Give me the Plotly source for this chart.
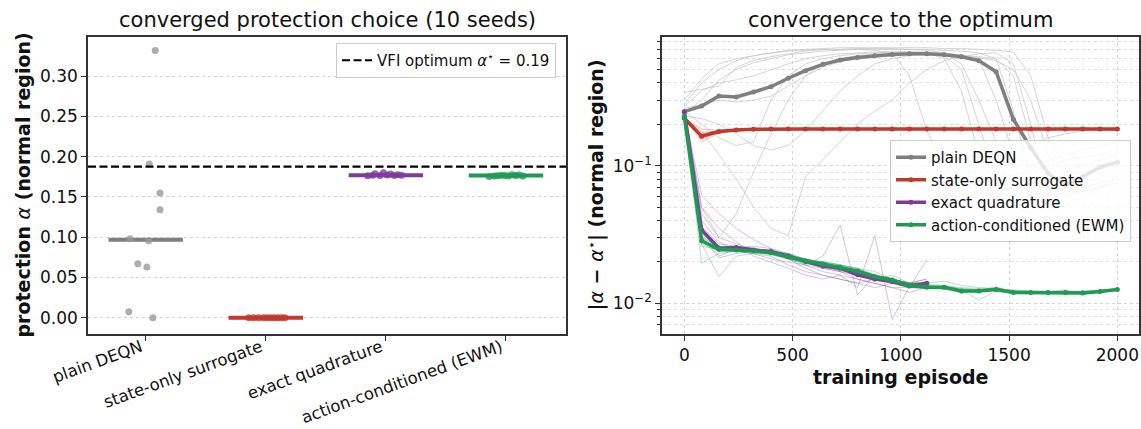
import numpy as np
import plotly.graph_objects as go

# ---------------- data ----------------
categories = ["plain DEQN", "state-only surrogate", "exact quadrature", "action-conditioned (EWM)"]
alpha_star = 0.1876

final_plain = [0.332, 0.191, 0.155, 0.134, 0.098, 0.0955, 0.067, 0.063, 0.0074, 0.0]
final_state = [0.0, 0.0, 0.0, 0.0, 0.0, 0.0, 0.0, 0.0, 0.0, 0.0]
final_exact = [0.1765, 0.1770, 0.1790, 0.1768, 0.1800, 0.1772, 0.1785, 0.1766, 0.1775, 0.1770]
final_ewm = [0.1755, 0.1760, 0.1765, 0.1770, 0.1768, 0.1762, 0.1775, 0.1766, 0.1772, 0.1760]

jitter_plain = [0.08, 0.03, 0.12, 0.12, -0.13, 0.025, -0.065, 0.01, -0.14, 0.06]
jitter_state = [-0.14, -0.10, -0.06, -0.02, 0.01, 0.04, 0.07, 0.10, 0.13, 0.16]
jitter_exact = [-0.15, -0.11, -0.09, -0.05, -0.02, 0.01, 0.04, 0.07, 0.10, 0.13]
jitter_ewm = [-0.14, -0.10, -0.07, -0.04, -0.01, 0.02, 0.05, 0.08, 0.11, 0.14]

episodes = [0, 80, 160, 240, 320, 400, 480, 560, 640, 720, 800, 880, 960, 1040,
            1120, 1200, 1280, 1360, 1440, 1520, 1600, 1680, 1760, 1840, 1920, 2000]
episodes_exact = [0, 80, 160, 240, 320, 400, 480, 560, 640, 720, 800, 880, 960, 1040, 1120]

plain_mean = [0.247, 0.271, 0.321, 0.316, 0.343, 0.375, 0.432, 0.490, 0.545, 0.586, 0.612, 0.630, 0.644,
              0.650, 0.650, 0.640, 0.620, 0.580, 0.482, 0.217, 0.135, 0.088, 0.072, 0.083, 0.098, 0.106]
state_mean = [0.221, 0.164, 0.177, 0.182, 0.184, 0.185, 0.185, 0.185, 0.185, 0.185, 0.185, 0.185, 0.185,
              0.185, 0.185, 0.185, 0.185, 0.185, 0.185, 0.185, 0.185, 0.185, 0.185, 0.185, 0.185, 0.185]
exact_mean = [0.247, 0.0341, 0.0251, 0.0254, 0.0244, 0.0238, 0.0221, 0.0201, 0.0187, 0.0180, 0.0161,
              0.0150, 0.0144, 0.0134, 0.0140]
ewm_mean = [0.229, 0.0285, 0.0247, 0.0244, 0.0241, 0.0233, 0.0218, 0.0203, 0.0193, 0.0183, 0.0172, 0.0156,
            0.0148, 0.0134, 0.0131, 0.0131, 0.0123, 0.0123, 0.0126, 0.0120, 0.0120, 0.0120, 0.0120, 0.0119,
            0.0122, 0.0126]

plain_seeds = [
    [0.30, 0.43, 0.55, 0.60, 0.63, 0.66, 0.69, 0.70, 0.71, 0.72, 0.72, 0.72, 0.72, 0.72, 0.72, 0.71, 0.71, 0.70, 0.69, 0.67, 0.45, 0.16, 0.10, 0.10, 0.10, 0.10],
    [0.34, 0.36, 0.38, 0.52, 0.58, 0.62, 0.65, 0.68, 0.70, 0.70, 0.71, 0.71, 0.71, 0.70, 0.70, 0.69, 0.68, 0.66, 0.60, 0.25, 0.08, 0.05, 0.04, 0.035, 0.032, 0.031],
    [0.25, 0.20, 0.16, 0.14, 0.15, 0.30, 0.45, 0.55, 0.60, 0.63, 0.65, 0.66, 0.67, 0.67, 0.67, 0.66, 0.64, 0.60, 0.30, 0.12, 0.10, 0.11, 0.12, 0.13, 0.14, 0.15],
    [0.25, 0.05, 0.030, 0.045, 0.09, 0.17, 0.30, 0.45, 0.55, 0.60, 0.63, 0.65, 0.66, 0.66, 0.65, 0.63, 0.50, 0.20, 0.08, 0.05, 0.045, 0.05, 0.06, 0.07, 0.075, 0.08],
    [0.22, 0.18, 0.12, 0.08, 0.05, 0.035, 0.031, 0.083, 0.11, 0.15, 0.20, 0.25, 0.30, 0.40, 0.50, 0.58, 0.62, 0.65, 0.66, 0.55, 0.20, 0.06, 0.05, 0.06, 0.07, 0.08],
    [0.28, 0.40, 0.50, 0.58, 0.63, 0.66, 0.68, 0.69, 0.70, 0.70, 0.70, 0.69, 0.66, 0.45, 0.18, 0.10, 0.08, 0.07, 0.065, 0.07, 0.075, 0.08, 0.085, 0.09, 0.095, 0.10],
    [0.24, 0.30, 0.42, 0.50, 0.56, 0.60, 0.64, 0.66, 0.68, 0.69, 0.70, 0.70, 0.70, 0.70, 0.69, 0.66, 0.55, 0.30, 0.15, 0.12, 0.14, 0.16, 0.17, 0.18, 0.18, 0.18],
    [0.26, 0.28, 0.30, 0.29, 0.30, 0.32, 0.38, 0.45, 0.52, 0.57, 0.60, 0.62, 0.63, 0.64, 0.64, 0.63, 0.62, 0.61, 0.58, 0.50, 0.30, 0.12, 0.09, 0.10, 0.11, 0.12],
    [0.23, 0.22, 0.20, 0.17, 0.14, 0.13, 0.14, 0.18, 0.25, 0.35, 0.45, 0.55, 0.60, 0.63, 0.64, 0.64, 0.63, 0.62, 0.60, 0.45, 0.15, 0.07, 0.06, 0.065, 0.07, 0.075],
    [0.27, 0.35, 0.40, 0.42, 0.45, 0.50, 0.55, 0.60, 0.63, 0.65, 0.66, 0.67, 0.67, 0.67, 0.66, 0.60, 0.35, 0.12, 0.09, 0.085, 0.09, 0.10, 0.11, 0.115, 0.12, 0.12],
]
state_seeds = [
    [0.22, 0.150, 0.172, 0.180, 0.183, 0.184, 0.185, 0.185, 0.185, 0.185, 0.185, 0.185, 0.185, 0.185, 0.185, 0.185, 0.185, 0.185, 0.185, 0.185, 0.185, 0.185, 0.185, 0.185, 0.185, 0.185],
    [0.23, 0.160, 0.175, 0.181, 0.184, 0.185, 0.185, 0.186, 0.185, 0.185, 0.185, 0.186, 0.185, 0.185, 0.185, 0.185, 0.186, 0.185, 0.185, 0.185, 0.185, 0.185, 0.186, 0.185, 0.185, 0.185],
    [0.21, 0.170, 0.180, 0.183, 0.184, 0.185, 0.185, 0.185, 0.185, 0.184, 0.185, 0.185, 0.185, 0.185, 0.184, 0.185, 0.185, 0.185, 0.185, 0.184, 0.185, 0.185, 0.185, 0.185, 0.185, 0.184],
    [0.22, 0.175, 0.178, 0.182, 0.183, 0.185, 0.185, 0.185, 0.186, 0.185, 0.185, 0.185, 0.185, 0.186, 0.185, 0.185, 0.185, 0.185, 0.186, 0.185, 0.185, 0.185, 0.185, 0.185, 0.186, 0.185],
    [0.23, 0.155, 0.176, 0.182, 0.184, 0.185, 0.184, 0.185, 0.185, 0.185, 0.185, 0.184, 0.185, 0.185, 0.185, 0.185, 0.185, 0.184, 0.185, 0.185, 0.185, 0.184, 0.185, 0.185, 0.185, 0.185],
    [0.22, 0.165, 0.177, 0.181, 0.183, 0.184, 0.185, 0.185, 0.185, 0.185, 0.186, 0.185, 0.185, 0.185, 0.185, 0.186, 0.185, 0.185, 0.185, 0.185, 0.186, 0.185, 0.185, 0.185, 0.185, 0.185],
    [0.21, 0.168, 0.179, 0.183, 0.185, 0.185, 0.185, 0.184, 0.185, 0.185, 0.185, 0.185, 0.184, 0.185, 0.185, 0.185, 0.184, 0.185, 0.185, 0.185, 0.185, 0.185, 0.184, 0.185, 0.185, 0.185],
    [0.22, 0.185, 0.181, 0.184, 0.185, 0.185, 0.185, 0.185, 0.185, 0.186, 0.185, 0.185, 0.185, 0.185, 0.186, 0.185, 0.185, 0.185, 0.185, 0.185, 0.185, 0.186, 0.185, 0.185, 0.185, 0.185],
    [0.23, 0.158, 0.174, 0.180, 0.183, 0.184, 0.185, 0.185, 0.185, 0.185, 0.185, 0.185, 0.185, 0.185, 0.185, 0.185, 0.185, 0.185, 0.185, 0.185, 0.185, 0.185, 0.185, 0.186, 0.185, 0.185],
    [0.22, 0.162, 0.176, 0.182, 0.184, 0.185, 0.185, 0.185, 0.184, 0.185, 0.185, 0.185, 0.185, 0.185, 0.185, 0.184, 0.185, 0.185, 0.185, 0.185, 0.185, 0.185, 0.185, 0.185, 0.185, 0.186],
]
exact_seeds = [
    [0.25, 0.045, 0.030, 0.027, 0.025, 0.023, 0.022, 0.019, 0.022, 0.037, 0.0115, 0.016, 0.014, 0.013, 0.013],
    [0.24, 0.035, 0.026, 0.025, 0.024, 0.023, 0.021, 0.019, 0.017, 0.016, 0.013, 0.031, 0.0076, 0.0132, 0.0206],
    [0.25, 0.061, 0.045, 0.035, 0.029, 0.025, 0.021, 0.018, 0.016, 0.015, 0.014, 0.013, 0.014, 0.013, 0.013],
    [0.25, 0.030, 0.0214, 0.023, 0.024, 0.023, 0.022, 0.021, 0.019, 0.017, 0.015, 0.014, 0.013, 0.012, 0.013],
    [0.25, 0.033, 0.024, 0.026, 0.025, 0.024, 0.023, 0.020, 0.019, 0.018, 0.017, 0.016, 0.015, 0.014, 0.014],
    [0.24, 0.040, 0.028, 0.024, 0.023, 0.022, 0.019, 0.017, 0.016, 0.015, 0.014, 0.015, 0.016, 0.014, 0.015],
    [0.25, 0.031, 0.022, 0.025, 0.026, 0.025, 0.023, 0.021, 0.019, 0.018, 0.016, 0.015, 0.014, 0.013, 0.014],
    [0.25, 0.050, 0.035, 0.028, 0.022, 0.020, 0.018, 0.016, 0.015, 0.016, 0.015, 0.014, 0.013, 0.013, 0.013],
    [0.24, 0.034, 0.025, 0.024, 0.023, 0.021, 0.020, 0.019, 0.018, 0.017, 0.016, 0.015, 0.014, 0.014, 0.014],
    [0.25, 0.036, 0.027, 0.026, 0.025, 0.024, 0.022, 0.020, 0.018, 0.017, 0.017, 0.016, 0.015, 0.014, 0.015],
]
ewm_seeds = [
    [0.23, 0.0196, 0.023, 0.024, 0.024, 0.023, 0.022, 0.021, 0.020, 0.019, 0.018, 0.016, 0.015, 0.014, 0.013, 0.013, 0.0125, 0.0125, 0.013, 0.0122, 0.0121, 0.012, 0.0121, 0.012, 0.0123, 0.0127],
    [0.23, 0.027, 0.0156, 0.022, 0.023, 0.023, 0.021, 0.020, 0.019, 0.018, 0.017, 0.016, 0.015, 0.014, 0.0135, 0.013, 0.0118, 0.0124, 0.0132, 0.012, 0.0118, 0.0122, 0.0125, 0.0116, 0.012, 0.0125],
    [0.23, 0.029, 0.025, 0.025, 0.024, 0.023, 0.022, 0.021, 0.020, 0.019, 0.018, 0.017, 0.015, 0.014, 0.014, 0.0145, 0.0135, 0.013, 0.0128, 0.0125, 0.0123, 0.0122, 0.0121, 0.012, 0.0121, 0.0124],
    [0.23, 0.030, 0.026, 0.0245, 0.0245, 0.024, 0.023, 0.021, 0.0195, 0.018, 0.017, 0.0155, 0.0148, 0.0135, 0.0131, 0.0128, 0.0124, 0.0106, 0.0122, 0.0118, 0.0121, 0.0119, 0.0118, 0.0124, 0.0119, 0.0128],
    [0.23, 0.028, 0.024, 0.024, 0.0235, 0.0225, 0.021, 0.0195, 0.0185, 0.0175, 0.0165, 0.015, 0.0142, 0.0132, 0.013, 0.0132, 0.0128, 0.0125, 0.0124, 0.0121, 0.0119, 0.0118, 0.0122, 0.0121, 0.0122, 0.0125],
    [0.23, 0.031, 0.025, 0.0245, 0.024, 0.0235, 0.022, 0.0205, 0.0195, 0.0185, 0.0175, 0.0158, 0.015, 0.014, 0.0138, 0.0135, 0.013, 0.0128, 0.0127, 0.0124, 0.0122, 0.012, 0.012, 0.0119, 0.0123, 0.0126],
    [0.23, 0.026, 0.0245, 0.024, 0.024, 0.023, 0.0215, 0.020, 0.019, 0.018, 0.0168, 0.0152, 0.0145, 0.0135, 0.0128, 0.0126, 0.0121, 0.0122, 0.0125, 0.0119, 0.012, 0.0121, 0.0119, 0.0118, 0.0124, 0.0125],
    [0.23, 0.029, 0.025, 0.0242, 0.0238, 0.0232, 0.0218, 0.0202, 0.0192, 0.0182, 0.0172, 0.0158, 0.0146, 0.0133, 0.0132, 0.0134, 0.0124, 0.0124, 0.0128, 0.0122, 0.0121, 0.0121, 0.0121, 0.0122, 0.0125, 0.0127],
    [0.23, 0.032, 0.026, 0.025, 0.0245, 0.0238, 0.0225, 0.021, 0.020, 0.019, 0.0178, 0.0162, 0.0152, 0.0138, 0.0134, 0.0133, 0.0127, 0.0126, 0.0128, 0.0123, 0.0122, 0.0122, 0.0123, 0.0121, 0.0123, 0.0126],
    [0.23, 0.027, 0.0238, 0.0238, 0.0236, 0.0228, 0.0212, 0.0198, 0.0188, 0.0178, 0.0168, 0.0152, 0.0144, 0.0131, 0.0129, 0.0129, 0.0122, 0.0121, 0.0124, 0.0118, 0.0119, 0.0119, 0.0118, 0.0117, 0.0121, 0.0124],
]

# log-axis tick positions (right panel)
log_major_ticks = [0.01, 0.1]
log_major_text = ["10<sup>−2</sup>", "10<sup>−1</sup>"]
log_minor_ticks = [0.007, 0.008, 0.009, 0.02, 0.03, 0.04, 0.05, 0.06, 0.07, 0.08, 0.09,
                   0.2, 0.3, 0.4, 0.5, 0.6, 0.7, 0.8]

# ---------------- style ----------------
FONT = "DejaVu Sans"
C_GRAY, C_GRAY_PT = "#7f7f7f", "#999999"
C_RED, C_PURPLE, C_GREEN = "#c0392b", "#7d3c98", "#1e9a55"
AXC = "#333333"
GRIDC = "#d4d4d4"
TICK_FS, TITLE_FS, LABEL_FS, LEG_FS = 17, 21, 19, 15

W, H = 1141, 429
ML, MR, MT, MB = 88, 2, 37, 95
PW = W - ML - MR
def px(x):
    return (x - ML) / PW

fig = go.Figure()

# ---------------- left panel ----------------
finals = [final_plain, final_state, final_exact, final_ewm]
jitters = [jitter_plain, jitter_state, jitter_exact, jitter_ewm]
line_cols = [C_GRAY, C_RED, C_PURPLE, C_GREEN]
pt_cols = [C_GRAY_PT, C_RED, C_PURPLE, C_GREEN]
half = 0.31
for i, (vals, jit) in enumerate(zip(finals, jitters)):
    med = float(np.median(vals))
    fig.add_trace(go.Scatter(x=[i - half, i + half], y=[med, med], mode="lines",
                             line=dict(color=line_cols[i], width=4), showlegend=False,
                             xaxis="x", yaxis="y", hoverinfo="skip"))
    fig.add_trace(go.Scatter(x=[i + j for j in jit], y=vals, mode="markers",
                             marker=dict(color=pt_cols[i], size=7, opacity=0.8, line=dict(width=0)),
                             showlegend=False, xaxis="x", yaxis="y"))

fig.add_shape(type="line", xref="x domain", yref="y", x0=0, x1=1, y0=alpha_star, y1=alpha_star,
              line=dict(color="black", width=2.2, dash="8px,3.5px"), showlegend=True,
              name="VFI optimum <i>α</i><sup>⋆</sup>&nbsp;=&nbsp;0.19", legend="legend")

# ---------------- right panel ----------------
def seed_lines(xs, seeds, color, opacity):
    for s in seeds:
        fig.add_trace(go.Scatter(x=xs, y=s, mode="lines", line=dict(color=color, width=1),
                                 opacity=opacity, showlegend=False, xaxis="x2", yaxis="y2",
                                 hoverinfo="skip"))

def mean_line(xs, ys, name, color):
    fig.add_trace(go.Scatter(x=xs, y=ys, mode="lines+markers", name=name, legendgroup=name,
                             line=dict(color=color, width=3.5), marker=dict(size=5, color=color),
                             xaxis="x2", yaxis="y2", legend="legend2"))

seed_lines(episodes, plain_seeds, "#c8c8c8", 0.75)
mean_line(episodes, plain_mean, "plain DEQN", C_GRAY)
seed_lines(episodes, state_seeds, C_RED, 0.3)
mean_line(episodes, state_mean, "state-only surrogate", C_RED)
seed_lines(episodes_exact, exact_seeds, C_PURPLE, 0.3)
mean_line(episodes_exact, exact_mean, "exact quadrature", C_PURPLE)
seed_lines(episodes, ewm_seeds, C_GREEN, 0.3)
mean_line(episodes, ewm_mean, "action-conditioned (EWM)", C_GREEN)

axis_common = dict(showline=True, linecolor=AXC, linewidth=1.5, mirror=True, ticks="outside",
                   ticklen=5, tickwidth=1.2, tickcolor=AXC, zeroline=False, automargin=False)
tickfont = dict(family=FONT, size=TICK_FS, color="#111")

PH = H - MT - MB
fig.update_layout(
    width=W, height=H, margin=dict(l=ML, r=MR, t=MT, b=MB),
    paper_bgcolor="white", plot_bgcolor="white",
    font=dict(family=FONT, color="#111"),
    xaxis=dict(domain=[0, px(566)], range=[-0.48, 3.5], tickmode="array", tickvals=[0, 1, 2, 3],
               ticktext=[c + "\u00a0" for c in categories], tickangle=-20, showgrid=False, anchor="y",
               ticklabelstandoff=-11, tickfont=dict(family=FONT, size=16.5, color="#111"),
               **axis_common),
    yaxis=dict(domain=[0, 1], range=[-0.0203, 0.3488], tick0=0, dtick=0.05, tickformat=".2f",
               showgrid=True, gridcolor=GRIDC, gridwidth=0.8, griddash="dot", anchor="x",
               tickfont=tickfont, **axis_common),
    xaxis2=dict(domain=[px(662), 1], range=[-103, 2100], tick0=0, dtick=500, showgrid=True,
                gridcolor=GRIDC, gridwidth=0.8, griddash="dot", anchor="y2",
                tickfont=tickfont, **axis_common),
    yaxis2=dict(domain=[0, 1], type="log", range=[-2.223, -0.0647], tickmode="array",
                tickvals=log_major_ticks, ticktext=log_major_text,
                showgrid=True, gridcolor=GRIDC, gridwidth=0.8, griddash="dot", anchor="x2",
                minor=dict(tickmode="array", tickvals=log_minor_ticks, ticks="outside", ticklen=3,
                           tickcolor=AXC, showgrid=True, gridcolor="#e0e0e0", gridwidth=0.7,
                           griddash="dot"),
                tickfont=tickfont, **axis_common),
    legend=dict(x=px(556), xanchor="right", y=1 - (43 - MT) / PH, yanchor="top",
                bgcolor="rgba(255,255,255,0.85)", bordercolor="#cccccc", borderwidth=1,
                font=dict(family=FONT, size=LEG_FS, color="#111")),
    legend2=dict(x=px(1131), xanchor="right", y=1 - (140 - MT) / PH, yanchor="top",
                 bgcolor="rgba(255,255,255,0.8)", bordercolor="#cccccc", borderwidth=1,
                 tracegroupgap=0,
                 font=dict(family=FONT, size=LEG_FS, color="#111")),
    annotations=[
        dict(text="converged protection choice (10 seeds)", x=(px(88) + px(566)) / 2, y=1,
             xref="paper", yref="paper", xanchor="center", yanchor="bottom", yshift=3,
             showarrow=False, font=dict(family=FONT, size=TITLE_FS, color="#111")),
        dict(text="convergence to the optimum", x=(px(662) + 1) / 2, y=1,
             xref="paper", yref="paper", xanchor="center", yanchor="bottom", yshift=3,
             showarrow=False, font=dict(family=FONT, size=TITLE_FS, color="#111")),
        dict(text="<b>protection </b><i>α</i><b> (normal region)</b>", x=px(22), y=0.5,
             xref="paper", yref="paper", xanchor="center", yanchor="middle", textangle=-90,
             showarrow=False, font=dict(family=FONT, size=LABEL_FS, color="#111")),
        dict(text="<b>|</b><i>α</i><b> − </b><i>α</i><sup>⋆</sup><b>| (normal region)</b>", x=px(596), y=0.5,
             xref="paper", yref="paper", xanchor="center", yanchor="middle", textangle=-90,
             showarrow=False, font=dict(family=FONT, size=LABEL_FS, color="#111")),
        dict(text="<b>training episode</b>", x=(px(662) + 1) / 2, y=0,
             xref="paper", yref="paper", xanchor="center", yanchor="top", yshift=-30,
             showarrow=False, font=dict(family=FONT, size=LABEL_FS, color="#111")),
    ],
)

fig.write_html("out.html")
